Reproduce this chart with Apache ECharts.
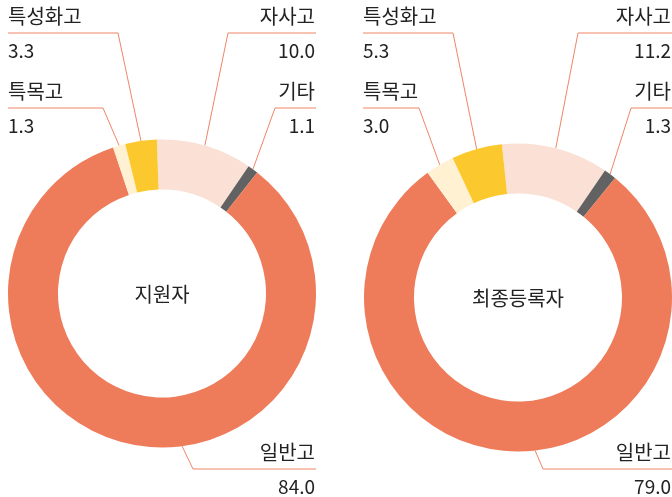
<!DOCTYPE html>
<html>
<head>
<meta charset="utf-8">
<script src="https://cdn.jsdelivr.net/npm/echarts@6/dist/echarts.min.js"></script>
<style>
html,body{margin:0;padding:0;background:#fff;}
#main{width:672px;height:497px;}
</style>
</head>
<body>
<div id="main"></div>
<script>
// ---- data ----
const categories = ['자사고', '기타', '일반고', '특목고', '특성화고'];
const applicants = [10.0, 1.1, 84.0, 1.3, 3.3];
const enrolled = [11.2, 1.3, 79.0, 3.0, 5.3];
const chartTitles = ['지원자', '최종등록자'];

// ---- style / layout ----
const colors = {
  '자사고': '#FAE0D5',
  '기타': '#626262',
  '일반고': '#EE7B5A',
  '특목고': '#FFF1D2',
  '특성화고': '#FBC92E'
};
const lineColor = '#EF8565';
const FONT = '"Noto Sans CJK KR", "Noto Sans", sans-serif';
const R_IN = 104, R_OUT = 154;

const pies = [
  { center: [162, 293.5], startAngle: 91.9, leftEdge: 8, rightEdge: 315,
    slots: {
      '자사고': { side: 'right', lineY: 33, cornerX: 228 },
      '기타': { side: 'right', lineY: 108, cornerX: 275 },
      '일반고': { side: 'right', lineY: 469, cornerX: 193, anchorDeg: 172.5 },
      '특목고': { side: 'left', lineY: 108, cornerX: 103 },
      '특성화고': { side: 'left', lineY: 33, cornerX: 118 }
    } },
  { center: [518, 297.5], startAngle: 96, leftEdge: 363, rightEdge: 671,
    slots: {
      '자사고': { side: 'right', lineY: 33, cornerX: 578 },
      '기타': { side: 'right', lineY: 108, cornerX: 631 },
      '일반고': { side: 'right', lineY: 469, cornerX: 543, anchorDeg: 173.6 },
      '특목고': { side: 'left', lineY: 108, cornerX: 419 },
      '특성화고': { side: 'left', lineY: 33, cornerX: 453 }
    } }
];
const seriesValues = [applicants, enrolled];

const chart = echarts.init(document.getElementById('main'), null, { renderer: 'canvas' });

function makeLayout(pieIdx) {
  const cfg = pies[pieIdx];
  return function (params) {
    const name = categories[params.dataIndex];
    const s = cfg.slots[name];
    let start = params.labelLinePoints ? params.labelLinePoints[0].slice() : [cfg.center[0], cfg.center[1] - R_OUT];
    if (s.anchorDeg != null) {
      const a = s.anchorDeg * Math.PI / 180;
      start = [cfg.center[0] + R_OUT * Math.sin(a), cfg.center[1] - R_OUT * Math.cos(a)];
    }
    const endX = s.side === 'left' ? cfg.leftEdge : (cfg.rightEdge + 1);
    return {
      x: s.side === 'left' ? cfg.leftEdge : cfg.rightEdge,
      y: s.lineY + 0.5,
      align: s.side,
      verticalAlign: 'middle',
      labelLinePoints: [start, [s.cornerX, s.lineY], [endX, s.lineY]]
    };
  };
}

const series = pies.map(function (cfg, i) {
  return {
    type: 'pie',
    center: cfg.center,
    radius: [R_IN, R_OUT],
    startAngle: cfg.startAngle,
    clockwise: true,
    avoidLabelOverlap: false,
    animation: false,
    emphasis: { disabled: true },
    itemStyle: { borderWidth: 0 },
    label: {
      show: true,
      position: 'outside',
      formatter: function (p) { return '{n|' + p.name + '}\n{v|' + Number(p.value).toFixed(1) + '}'; },
      rich: {
        n: { fontFamily: FONT, fontSize: 20, color: '#222222', lineHeight: 35 },
        v: { fontFamily: FONT, fontSize: 19, color: '#222222', lineHeight: 35 }
      }
    },
    labelLine: { show: true, smooth: false, lineStyle: { color: lineColor, width: 1 } },
    labelLayout: makeLayout(i),
    data: categories.map(function (c, j) {
      return { name: c, value: seriesValues[i][j], itemStyle: { color: colors[c] } };
    })
  };
});

chart.setOption({
  backgroundColor: '#ffffff',
  animation: false,
  tooltip: { show: false },
  graphic: pies.map(function (cfg, i) {
    return {
      type: 'text',
      x: cfg.center[0],
      y: cfg.center[1] + 1,
      style: {
        text: chartTitles[i],
        fontFamily: FONT,
        fontSize: 20,
        fill: '#222222',
        align: 'center',
        verticalAlign: 'middle'
      }
    };
  }),
  series: series
});
</script>
</body>
</html>
